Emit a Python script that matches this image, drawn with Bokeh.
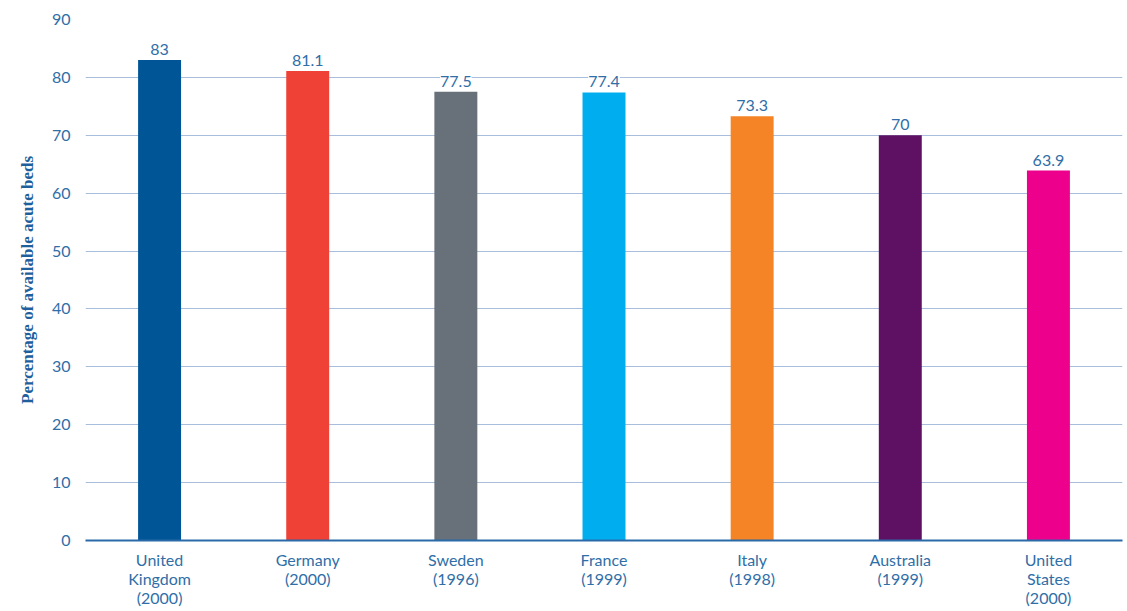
from bokeh.plotting import figure
from bokeh.models import ColumnDataSource, LabelSet, FixedTicker, Range1d
from bokeh.core.properties import value
from bokeh.embed import file_html
from bokeh.resources import INLINE

countries = ["United\nKingdom\n(2000)", "Germany\n(2000)", "Sweden\n(1996)", "France\n(1999)",
             "Italy\n(1998)", "Australia\n(1999)", "United\nStates\n(2000)"]
values = [83, 81.1, 77.5, 77.4, 73.3, 70, 63.9]
value_labels = ["83", "81.1", "77.5", "77.4", "73.3", "70", "63.9"]
colors = ["#005596", "#ef4136", "#68717a", "#00aeef", "#f58426", "#5e1163", "#ec008c"]
y_ticks = [0, 10, 20, 30, 40, 50, 60, 70, 80, 90]

FONT = "Lato"
TXT = "#2f6ea7"

src = ColumnDataSource(dict(k=countries, v=values, lab=value_labels, c=colors))

p = figure(x_range=countries, y_range=Range1d(0, 90), width=1127, height=611,
           output_backend="svg", toolbar_location=None,
           min_border_left=85, min_border_right=5, min_border_top=19, min_border_bottom=71)
p.outline_line_color = None
p.background_fill_color = "white"
p.border_fill_color = "white"

p.vbar(x="k", top="v", width=0.29, color="c", line_color=None, source=src)

labels = LabelSet(x="k", y="v", text="lab", source=src, text_align="center",
                  text_baseline="bottom", y_offset=5, text_font=value(FONT),
                  text_font_size=value("16px"),
                  text_color=TXT, background_fill_color="white", background_fill_alpha=1.0,
                  border_line_color=None)
p.add_layout(labels)

p.xgrid.grid_line_color = None
p.ygrid.grid_line_color = "#a9bedd"
p.ygrid.grid_line_width = 1
p.ygrid.ticker = FixedTicker(ticks=y_ticks)

p.yaxis.ticker = FixedTicker(ticks=y_ticks)
p.yaxis.axis_line_color = None
p.yaxis.major_tick_line_color = None
p.yaxis.minor_tick_line_color = None
p.yaxis.major_label_text_font = FONT
p.yaxis.major_label_text_font_size = "16px"
p.yaxis.major_label_text_color = TXT
p.yaxis.major_label_standoff = 9
p.yaxis.axis_label = "Percentage of available acute beds"
p.yaxis.axis_label_text_font = "Liberation Serif"
p.yaxis.axis_label_text_font_style = "bold"
p.yaxis.axis_label_text_font_size = "17px"
p.yaxis.axis_label_text_color = "#1f5f9c"
p.yaxis.axis_label_standoff = 12

p.xaxis.axis_line_color = "#2a6aa8"
p.xaxis.axis_line_width = 2
p.xaxis.major_tick_line_color = None
p.xaxis.minor_tick_line_color = None
p.xaxis.major_label_text_font = FONT
p.xaxis.major_label_text_font_size = "16px"
p.xaxis.major_label_text_color = TXT
p.xaxis.major_label_standoff = 3
p.xaxis.major_label_text_line_height = 1.0

open("out.html", "w").write(file_html(p, INLINE))
